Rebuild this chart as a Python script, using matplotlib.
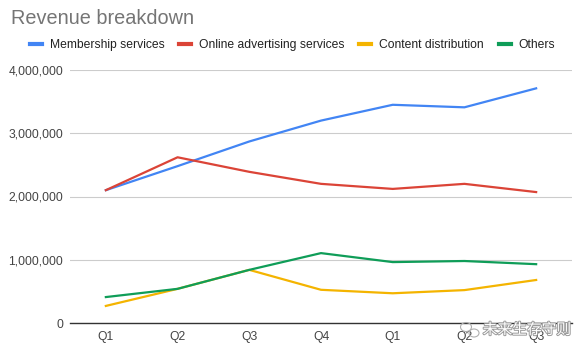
import matplotlib
matplotlib.use("Agg")
import matplotlib.pyplot as plt
from matplotlib.ticker import FuncFormatter
from matplotlib.lines import Line2D
from matplotlib.patches import Ellipse
import matplotlib.patheffects as pe

categories = ["Q1", "Q2", "Q3", "Q4", "Q1", "Q2", "Q3"]
membership = [2100000, 2480000, 2870000, 3200000, 3450000, 3410000, 3710000]
advertising = [2100000, 2620000, 2390000, 2200000, 2120000, 2200000, 2070000]
content = [270000, 540000, 840000, 525000, 470000, 520000, 680000]
others = [410000, 540000, 840000, 1105000, 963000, 980000, 930000]
series_names = ["Membership services", "Online advertising services", "Content distribution", "Others"]
colors = ["#4285F4", "#DB4437", "#F4B400", "#0F9D58"]
yticks = [0, 1000000, 2000000, 3000000, 4000000]

plt.rcParams['font.family'] = ['Liberation Sans', 'DejaVu Sans']

fig = plt.figure(figsize=(5.87, 3.54), dpi=100)
W, H = 587, 354
ax = fig.add_axes([70 / W, 1 - 323 / H, 502 / W, 253 / H])

xs = list(range(len(categories)))
for vals, c in zip([membership, advertising, content, others], colors):
    ax.plot(xs, vals, color=c, lw=1.6, solid_joinstyle='round', zorder=3)

ax.set_xlim(-0.5, 6.5)
ax.set_ylim(0, 4000000)
ax.set_yticks(yticks)
ax.yaxis.set_major_formatter(FuncFormatter(lambda v, p: f"{int(v):,}"))
ax.set_xticks(xs)
ax.set_xticklabels(categories)
ax.tick_params(axis='both', length=0, labelsize=8.7, labelcolor='#444444')
ax.tick_params(axis='y', pad=5)
ax.tick_params(axis='x', pad=6)
ax.grid(axis='y', color='#cccccc', lw=0.8)
ax.set_axisbelow(True)
for s in ['top', 'right', 'left']:
    ax.spines[s].set_visible(False)
ax.spines['bottom'].set_color('#333333')
ax.spines['bottom'].set_linewidth(1.0)
ax.spines['bottom'].set_zorder(4)

fig.text(11 / W, 1 - 18 / H, "Revenue breakdown", fontsize=14.3, color='#757575',
         ha='left', va='center')

handles = [Line2D([0], [0], color=c, lw=3) for c in colors]
fig.legend(handles, series_names, loc='center left', bbox_to_anchor=(30 / W, 1 - 45 / H),
           ncol=4, frameon=False, fontsize=8.7, handlelength=1.0, handletextpad=0.66,
           columnspacing=1.2, labelcolor='#222222', borderaxespad=0, borderpad=0)

# watermark
for cx, cy, w, h in [(466, 327, 11, 9), (474, 333, 10, 8)]:
    fig.add_artist(Ellipse((cx / W, 1 - cy / H), w / W, h / H, transform=fig.transFigure,
                           fill=False, ec='#b0b0b0', lw=0.8, zorder=10))
fig.text(527 / W, 1 - 330 / H, "未来生存守则", fontsize=10.6, color='white',
         family=['Noto Sans CJK SC', 'DejaVu Sans'], ha='center', va='center',
         path_effects=[pe.withStroke(linewidth=1.4, foreground='#9a9a9a')], zorder=10)

fig.savefig("out.png", dpi=100)
